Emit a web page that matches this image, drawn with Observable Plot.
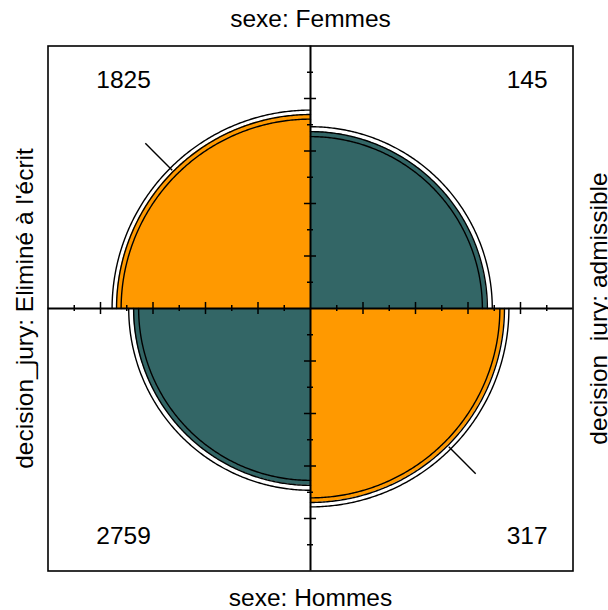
<!DOCTYPE html>
<html><head><meta charset="utf-8">
<script src="https://cdn.jsdelivr.net/npm/d3@7"></script>
<script src="https://cdn.jsdelivr.net/npm/@observablehq/plot@0.6"></script>
<style>
html,body{margin:0;padding:0;overflow:hidden;background:#fff}
svg{overflow:hidden}
</style>
</head><body><div id="chart"></div>
<script>
// ---- data ----
const rowVar = "sexe";
const colVar = "decision_jury";
const sexe = ["Femmes", "Hommes"];
const decision = ["Eliminé à l'écrit", "admissible"];
const counts = [[1825, 145], [2759, 317]];   // rows: sexe, cols: decision
const tickSteps = [0.1, 0.2, 0.3, 0.4, 0.5, 0.6, 0.7, 0.8, 0.9];
const majorSteps = [0.2, 0.4, 0.6, 0.8];
const guideRange = [0.745, 0.89];
const confLevel = 0.95;

// ---- fourfold standardisation (equal margins, odds ratio kept) ----
const [[n11, n12], [n21, n22]] = counts;
const logOR = Math.log((n11 * n22) / (n12 * n21));
const se = Math.sqrt(1 / n11 + 1 / n12 + 1 / n21 + 1 / n22);
const z = 1.959964; // normal quantile for confLevel 0.95
const orVals = {mid: Math.exp(logOR), lo: Math.exp(logOR - z * se), hi: Math.exp(logOR + z * se)};
const diagShare = o => 0.5 * Math.sqrt(o) / (1 + Math.sqrt(o));
const radius = (o, diag) => Math.sqrt(2 * (diag ? diagShare(o) : 0.5 - diagShare(o)));

const cells = [];
for (let i = 0; i < 2; i++) for (let j = 0; j < 2; j++) {
  cells.push({i, j, n: counts[i][j], sx: j === 0 ? -1 : 1, sy: i === 0 ? 1 : -1, diag: i === j});
}
const N = 180;
function arc(c, r) {
  const pts = [];
  for (let k = 0; k <= N; k++) {
    const t = (k / N) * Math.PI / 2;
    pts.push({x: c.sx * r * Math.cos(t), y: c.sy * r * Math.sin(t)});
  }
  return pts;
}

const marks = [];
for (const c of cells) {
  const r0 = radius(orVals.mid, c.diag);
  marks.push(Plot.areaY(arc(c, r0), {x: "x", y1: 0, y2: "y", fill: c.diag ? "#FF9900" : "#336666", curve: "linear"}));
}
for (const c of cells) {
  for (const key of ["mid", "lo", "hi"]) {
    marks.push(Plot.line(arc(c, radius(orVals[key], c.diag)), {x: "x", y: "y", stroke: "black", strokeWidth: 1.4}));
  }
}
// axes
marks.push(Plot.ruleX([0], {y1: -1, y2: 1, stroke: "black", strokeWidth: 2}));
marks.push(Plot.ruleY([0], {x1: -1, x2: 1, stroke: "black", strokeWidth: 2}));
// ticks
const tickData = [];
for (const s of tickSteps) for (const sign of [-1, 1]) {
  tickData.push({v: s * sign, len: majorSteps.includes(s) ? 0.023 : 0.0115});
}
marks.push(Plot.ruleY(tickData, {y: "v", x1: d => -d.len, x2: d => d.len, stroke: "black", strokeWidth: 1.5}));
marks.push(Plot.ruleX(tickData, {x: "v", y1: d => -d.len, y2: d => d.len, stroke: "black", strokeWidth: 1.5}));
// diagonal guide segments
const guides = cells.filter(c => c.diag).map(c => ({
  x1: c.sx * guideRange[0] * Math.SQRT1_2, y1: c.sy * guideRange[0] * Math.SQRT1_2,
  x2: c.sx * guideRange[1] * Math.SQRT1_2, y2: c.sy * guideRange[1] * Math.SQRT1_2
}));
marks.push(Plot.link(guides, {x1: "x1", y1: "y1", x2: "x2", y2: "y2", stroke: "black", strokeWidth: 1.4}));
// frame
marks.push(Plot.frame({stroke: "black", strokeWidth: 1.6}));

// count labels
const font = "Liberation Sans, Arial, Helvetica, sans-serif";
const fs = 24.5;
marks.push(Plot.text(cells, {
  x: c => c.sx < 0 ? -0.712 : 0.825, y: c => c.sy * 0.869,
  text: c => String(c.n), fontSize: fs, fill: "black", textAnchor: "middle"
}));
// strip labels
const strips = [
  {x: 0, y: 1.101, rot: 0, t: `${rowVar}: ${sexe[0]}`},
  {x: 0, y: -1.105, rot: 0, t: `${rowVar}: ${sexe[1]}`},
  {x: -1.086, y: 0, rot: -90, t: `${colVar}: ${decision[0]}`},
  {x: 1.101, y: 0, rot: -90, t: `${colVar}: ${decision[1]}`}
];
for (const s of strips) {
  marks.push(Plot.text([s], {x: "x", y: "y", text: "t", rotate: s.rot, fontSize: fs, fill: "black", textAnchor: "middle"}));
}

const chart = Plot.plot({
  width: 608, height: 610,
  marginLeft: 47.5, marginRight: 35.5, marginTop: 45.5, marginBottom: 39.5,
  x: {domain: [-1, 1], axis: null},
  y: {domain: [-1, 1], axis: null},
  style: {fontFamily: font, background: "white", overflow: "hidden"},
  marks
});
document.getElementById("chart").appendChild(chart);
</script>
</body></html>
